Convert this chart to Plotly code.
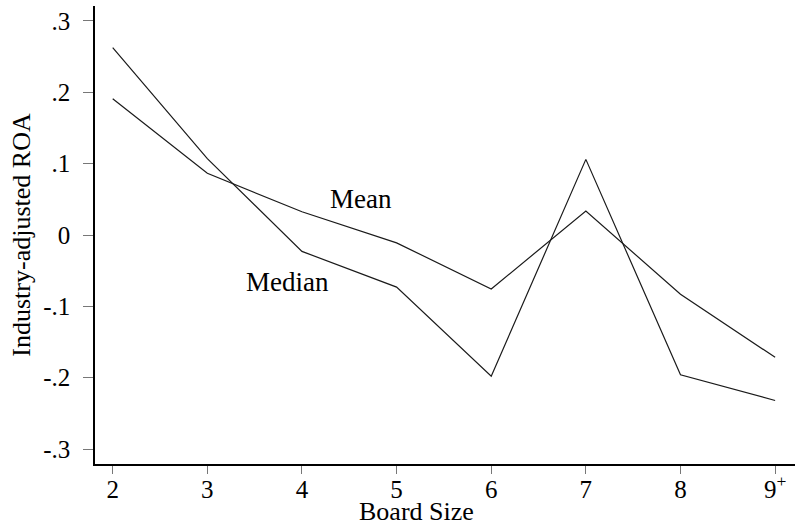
import plotly.graph_objects as go

board_size = [2, 3, 4, 5, 6, 7, 8, 9]
x_tick_labels = ["2", "3", "4", "5", "6", "7", "8", "9<sup>+</sup>"]
mean_roa = [0.191, 0.0865, 0.0325, -0.011, -0.0757, 0.0336, -0.083, -0.1715]
median_roa = [0.2626, 0.107, -0.023, -0.073, -0.198, 0.106, -0.196, -0.232]
y_ticks = [0.3, 0.2, 0.1, 0, -0.1, -0.2, -0.3]
y_tick_labels = [".3", ".2", ".1", "0", "-.1", "-.2", "-.3"]

FONT = "Liberation Serif"

fig = go.Figure()
fig.add_trace(go.Scatter(x=board_size, y=mean_roa, mode="lines", name="Mean",
                         line=dict(color="#1a1a1a", width=1.2)))
fig.add_trace(go.Scatter(x=board_size, y=median_roa, mode="lines", name="Median",
                         line=dict(color="#1a1a1a", width=1.2)))

fig.add_annotation(x=4.62, y=0.0498, text="Mean", showarrow=False,
                   font=dict(family=FONT, size=27, color="black"))
fig.add_annotation(x=3.85, y=-0.066, text="Median", showarrow=False,
                   font=dict(family=FONT, size=27, color="black"))
# x-axis title (placed like the reference, slightly left of centre)
fig.add_annotation(x=5.21, xref="x", y=0, yref="paper", yanchor="middle",
                   yshift=-47, text="Board Size", showarrow=False, borderpad=0,
                   font=dict(family=FONT, size=26, color="black"))

fig.update_layout(
    width=798, height=526,
    margin=dict(l=95, r=3, t=6, b=62),
    paper_bgcolor="white", plot_bgcolor="white",
    showlegend=False,
    font=dict(family=FONT, size=25, color="black"),
)
fig.update_xaxes(
    range=[1.813, 9.21], tickvals=board_size, ticktext=x_tick_labels,
    showgrid=False, zeroline=False, automargin=False,
    showline=True, linecolor="black", linewidth=1.5,
    ticks="outside", ticklen=8, tickcolor="#777", tickwidth=1,
    ticklabelstandoff=-6,
    tickfont=dict(family=FONT, size=25),
)
fig.update_yaxes(
    range=[-0.321, 0.321], tickvals=y_ticks, ticktext=y_tick_labels,
    showgrid=False, zeroline=False, automargin=False,
    showline=True, linecolor="black", linewidth=1.5,
    ticks="outside", ticklen=10, tickcolor="#777", tickwidth=1,
    ticklabelstandoff=8,
    tickfont=dict(family=FONT, size=25),
    title=dict(text="Industry-adjusted ROA", font=dict(family=FONT, size=26), standoff=5),
)

fig.write_html("out.html", config={"displayModeBar": False},
               post_script="document.body.style.margin='0';document.body.style.overflow='hidden';")
